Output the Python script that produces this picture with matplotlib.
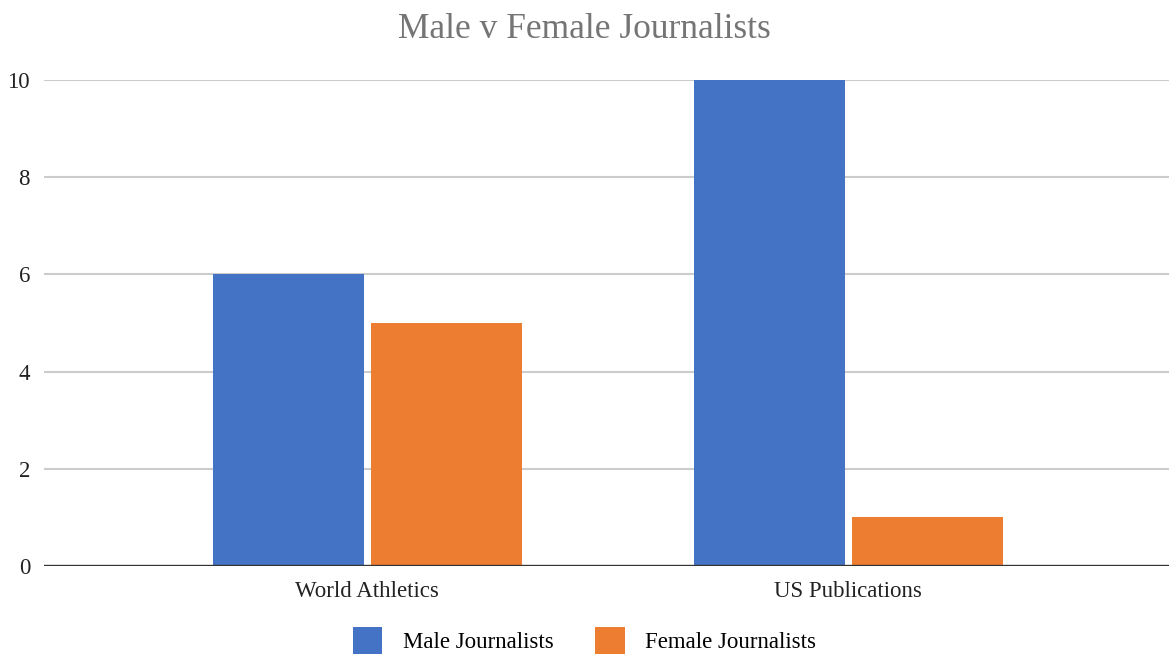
import matplotlib
matplotlib.use("Agg")
import matplotlib.pyplot as plt
import numpy as np

categories = ["World Athletics", "US Publications"]
male = [6, 10]
female = [5, 1]
series_names = ["Male Journalists", "Female Journalists"]
colors = ["#4472C4", "#ED7D31"]

plt.rcParams['font.family'] = ['Liberation Serif', 'DejaVu Serif']

fig = plt.figure(figsize=(11.69, 6.54), dpi=100)
ax = fig.add_axes([0.0376, 0.1346, 0.9624, 0.7431])

x = np.arange(len(categories))
w = 0.314
off = 0.164
ax.bar(x - off, male, width=w, color=colors[0], label=series_names[0], zorder=3)
ax.bar(x + off, female, width=w, color=colors[1], label=series_names[1], zorder=3)

ax.set_xlim(-0.672, 1.667)
ax.set_ylim(0, 10)
ax.set_yticks([0, 2, 4, 6, 8, 10])
ax.set_xticks(x)
ax.set_xticklabels(categories)
ax.tick_params(axis='both', length=0, labelsize=16.5, colors='#222222')
ax.tick_params(axis='y', pad=10)
ax.tick_params(axis='x', pad=11)

ax.grid(axis='y', color='#cccccc', linewidth=1.5, zorder=0)
for s in ax.spines.values():
    s.set_visible(False)
ax.axhline(0, color='#333333', linewidth=2.4, zorder=4)

fig.text(0.5, 0.955, "Male v Female Journalists", ha='center', va='center',
         fontsize=25.5, color='#757575')

fig.legend(loc='center', bbox_to_anchor=(0.5, 0.021), ncol=2, frameon=False,
           fontsize=16.5, handlelength=1.3, handleheight=1.4, columnspacing=1.8,
           handletextpad=0.9)

fig.savefig("out.png", dpi=100)
